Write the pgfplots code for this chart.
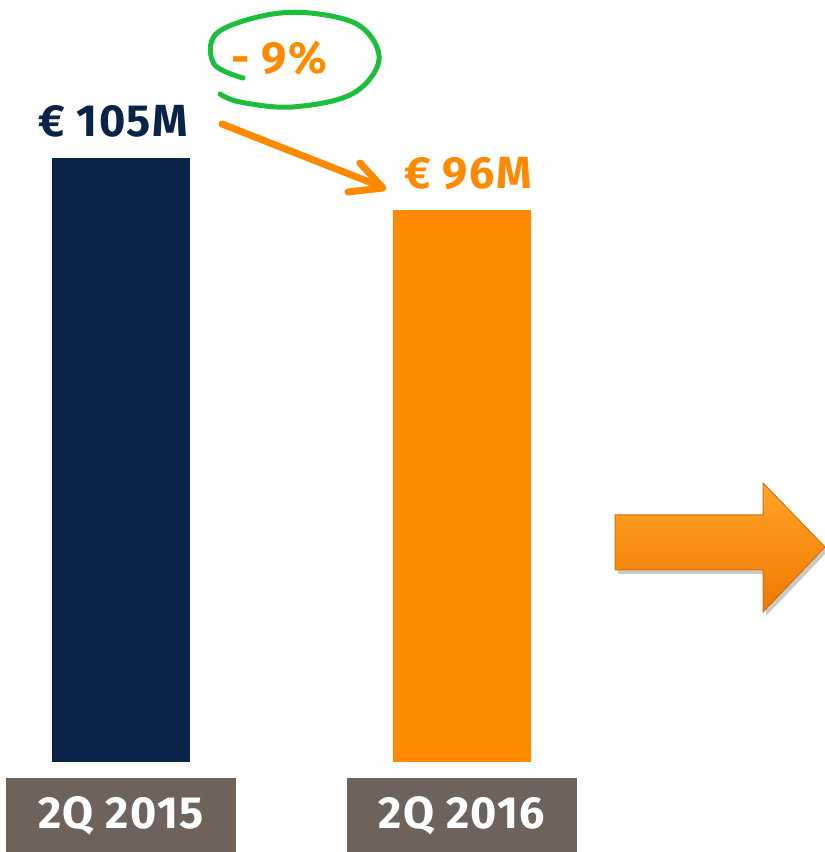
\documentclass[border=0pt]{standalone}
\usepackage{fontspec}
\setmainfont{Fira Sans}[LetterSpace=3]
\usepackage{pgfplots}
\pgfplotsset{compat=1.18}
\definecolor{navy}{RGB}{10,35,72}
\definecolor{orng}{RGB}{255,138,0}
\definecolor{boxc}{RGB}{110,99,90}
\definecolor{grn}{RGB}{28,190,60}
\newcommand{\bigfont}{\fontsize{22.5}{27}\selectfont\bfseries}
\begin{document}
\begin{tikzpicture}
\path[use as bounding box] (0,0) rectangle (412.5pt,426pt);
\begin{axis}[
  at={(0,45pt)}, anchor=south west,
  scale only axis, width=412.5pt, height=381pt,
  xmin=-0.3548, xmax=2.0645, ymin=0, ymax=132.47,
  hide y axis,
  axis line style={draw=none},
  major tick length=0pt,
  xtick={0,1}, xticklabels={2Q 2015, 2Q 2016},
  xticklabel style={fill=boxc, text=white, minimum width=115pt, minimum height=37pt,
    inner sep=0pt, anchor=north, yshift=-8pt, font=\bigfont},
  clip=false,
  ybar, bar width=69pt, bar shift=0pt,
  /pgf/number format/assume math mode=true,
  nodes near coords={€ \pgfmathprintnumber{\pgfplotspointmeta}M},
  nodes near coords style={font=\bigfont, inner sep=0pt, anchor=south, yshift=10pt},
]
\addplot[fill=navy, draw=none, every node near coord/.append style={text=navy, xshift=-4pt}] coordinates {(0,105)};
\addplot[fill=orng, draw=none, every node near coord/.append style={text=orng, xshift=3pt}] coordinates {(1,96)};
\end{axis}
\begin{scope}[x=0.5pt, y=-0.5pt, shift={(0,426pt)}]
  % green hand-drawn loop
  \draw[grn, line width=2.5pt, line cap=round] plot[smooth, tension=0.6] coordinates
    {(243,78) (214,64) (216,34) (262,16) (310,13) (360,26) (379,60) (352,94) (292,107) (240,102) (220,94)};
  \node[text=orng, font=\bigfont] at (279,58) {- 9\%};
  % orange arrow
  \draw[orng, line width=3.5pt, line cap=round, line join=round] (222,124) -- (382,187);
  \draw[orng, line width=3.5pt, line cap=round, line join=round] (360,163) -- (383,188) -- (348,192);
  % big arrow
  \fill[black!35, opacity=0.6] (618,519) -- (766,519) -- (766,487) -- (828,551) -- (766,616) -- (766,574) -- (618,574) -- cycle;
  \shade[top color={rgb,255:red,255;green,165;blue,40}, bottom color={rgb,255:red,240;green,120;blue,0}, draw={rgb,255:red,220;green,110;blue,0}, line width=0.5pt]
    (615,515) -- (763,515) -- (763,483) -- (825,547) -- (763,612) -- (763,570) -- (615,570) -- cycle;
\end{scope}
\end{tikzpicture}
\end{document}
